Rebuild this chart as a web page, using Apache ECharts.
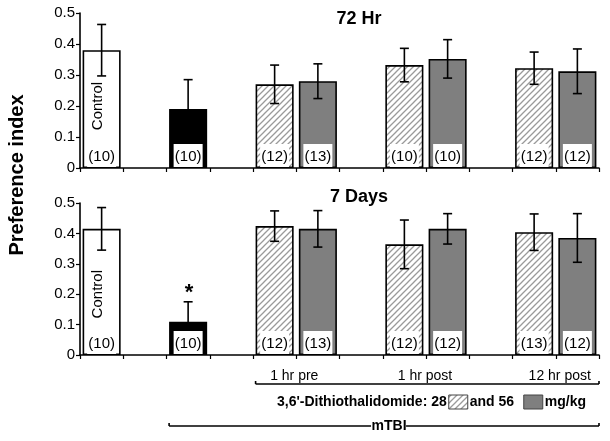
<!DOCTYPE html>
<html>
<head>
<meta charset="utf-8">
<script src="https://cdn.jsdelivr.net/npm/echarts@6/dist/echarts.min.js"></script>
<style>
html,body{margin:0;padding:0;background:#fff;}
#chart{width:610px;height:441px;}
</style>
</head>
<body>
<div id="chart"></div>
<script>
// ---------- data ----------
const categories = ['Control', 'gapA', 'mTBI', 'gapB', 'pre28', 'pre56', 'gapC', 'post1h28', 'post1h56', 'gapD', 'post12h28', 'post12h56'];
const fills = ['white', null, 'black', null, 'hatch', 'gray', null, 'hatch', 'gray', null, 'hatch', 'gray'];

const values72 = [0.38, null, 0.19, null, 0.27, 0.28, null, 0.332, 0.352, null, 0.322, 0.312];
const err72    = [0.083, null, 0.095, null, 0.062, 0.056, null, 0.054, 0.062, null, 0.052, 0.072];
const n72      = ['(10)', null, '(10)', null, '(12)', '(13)', null, '(10)', '(10)', null, '(12)', '(12)'];

const values7d = [0.415, null, 0.109, null, 0.424, 0.415, null, 0.364, 0.415, null, 0.404, 0.385];
const err7d    = [0.07, null, 0.066, null, 0.05, 0.06, null, 0.08, 0.05, null, 0.06, 0.08];
const n7d      = ['(10)', null, '(10)', null, '(12)', '(13)', null, '(12)', '(12)', null, '(13)', '(12)'];

const barText = ['Control', null, null, null, null, null, null, null, null, null, null, null];
const barTextValue = 0.2;
const stars7d = [null, null, '*', null, null, null, null, null, null, null, null, null];

const yTicks = [0, 0.1, 0.2, 0.3, 0.4, 0.5];
const panelTitles = ['72 Hr', '7 Days'];
const yName = 'Preference index';
const timingLabels = [['1 hr pre', 4, 5], ['1 hr post', 7, 8], ['12 hr post', 10, 11]];
const legendText = ["3,6'-Dithiothalidomide: 28", 'and 56', 'mg/kg'];
const groupLabel = 'mTBI';

// ---------- styling ----------
const FONT = 'Arial, "Liberation Sans", sans-serif';
const GRAY = '#7f7f7f';

const hatchCanvas = document.createElement('canvas');
hatchCanvas.width = 6; hatchCanvas.height = 6;
(function () {
  const c = hatchCanvas.getContext('2d');
  c.fillStyle = '#fff'; c.fillRect(0, 0, 6, 6);
  c.strokeStyle = '#9a9a9a'; c.lineWidth = 1.3;
  c.beginPath();
  c.moveTo(0, 6); c.lineTo(6, 0);
  c.moveTo(-1, 1); c.lineTo(1, -1);
  c.moveTo(5, 7); c.lineTo(7, 5);
  c.stroke();
})();
const hatchPattern = { image: hatchCanvas, repeat: 'repeat' };

function fillOf(f) {
  if (f === 'hatch') return hatchPattern;
  if (f === 'gray') return GRAY;
  return f;
}

const BAR_FRAC = 0.88;

function barSeries(vals, idx) {
  return {
    type: 'bar', xAxisIndex: idx, yAxisIndex: idx, barWidth: (BAR_FRAC * 100) + '%', z: 2,
    silent: true,
    data: vals.map((v, i) => v == null ? null : {
      value: v,
      itemStyle: { color: fillOf(fills[i]), borderColor: '#000', borderWidth: 1.6 }
    })
  };
}

function overlaySeries(vals, errs, ns, stars, idx) {
  const data = [];
  vals.forEach((v, i) => { if (v != null) data.push([categories[i], v, errs[i]]); });
  return {
    type: 'custom', xAxisIndex: idx, yAxisIndex: idx, z: 5, silent: true,
    data: data,
    renderItem: function (params, api) {
      const ci = api.value(0);
      const v = api.value(1), e = api.value(2);
      const top = api.coord([ci, v + e]);
      const bot = api.coord([ci, v - e]);
      const base = api.coord([ci, 0]);
      const x = top[0];
      const ls = { stroke: '#000', lineWidth: 1.6 };
      const ch = [
        { type: 'line', shape: { x1: x, y1: top[1], x2: x, y2: bot[1] }, style: ls },
        { type: 'line', shape: { x1: x - 4.5, y1: top[1], x2: x + 4.5, y2: top[1] }, style: ls },
        { type: 'line', shape: { x1: x - 4.5, y1: bot[1], x2: x + 4.5, y2: bot[1] }, style: ls },
        { type: 'rect', shape: { x: x - 14.5, y: base[1] - 24, width: 29, height: 23 }, style: { fill: '#fff' } },
        { type: 'text', x: x, y: base[1] - 11, style: { text: ns[ci], font: '15px ' + FONT, fill: '#000', align: 'center', verticalAlign: 'middle' } }
      ];
      if (barText[ci]) {
        const p = api.coord([ci, barTextValue]);
        ch.push({ type: 'text', x: p[0] - 4, y: p[1], rotation: Math.PI / 2,
          style: { text: barText[ci], font: '15px ' + FONT, fill: '#000', align: 'center', verticalAlign: 'middle' } });
      }
      if (stars && stars[ci]) {
        ch.push({ type: 'text', x: x + 1, y: top[1] - 9,
          style: { text: stars[ci], font: 'bold 22px ' + FONT, fill: '#000', align: 'center', verticalAlign: 'middle' } });
      }
      return { type: 'group', children: ch };
    }
  };
}

function xAxisOf(idx) {
  return {
    type: 'category', gridIndex: idx, data: categories,
    axisLine: { lineStyle: { color: '#000', width: 1.6 } },
    axisTick: { show: true, interval: 0, length: 4, lineStyle: { color: '#000', width: 1.2 } },
    axisLabel: { show: false }, splitLine: { show: false }
  };
}
function yAxisOf(idx) {
  return {
    type: 'value', gridIndex: idx, min: yTicks[0], max: yTicks[yTicks.length - 1], interval: 0.1,
    axisLine: { show: true, lineStyle: { color: '#000', width: 1.6 } },
    axisTick: { show: true, length: 4, lineStyle: { color: '#000', width: 1.2 } },
    axisLabel: { margin: 5, color: '#000', fontSize: 15, fontFamily: FONT,
      formatter: v => v === 0 ? '0' : v.toFixed(1) },
    splitLine: { show: false }
  };
}

const chart = echarts.init(document.getElementById('chart'), null, { renderer: 'canvas' });
chart.setOption({
  animation: false,
  backgroundColor: '#fff',
  title: panelTitles.map((t, i) => ({
    text: t, left: 354, top: i === 0 ? 5 : 183, textAlign: 'center',
    textStyle: { fontFamily: FONT, fontWeight: 'bold', fontSize: 18, color: '#000' }
  })),
  grid: [
    { left: 80, top: 13, width: 519, height: 155 },
    { left: 80, top: 203, width: 519, height: 152 }
  ],
  xAxis: [xAxisOf(0), xAxisOf(1)],
  yAxis: [yAxisOf(0), yAxisOf(1)],
  series: [
    barSeries(values72, 0), overlaySeries(values72, err72, n72, null, 0),
    barSeries(values7d, 1), overlaySeries(values7d, err7d, n7d, stars7d, 1)
  ]
});

// ---------- annotations positioned from the axis ----------
const cx = i => chart.convertToPixel({ xAxisIndex: 1 }, categories[i]);
const band = cx(1) - cx(0);
const halfBar = band * BAR_FRAC / 2;
const axisRight = cx(categories.length - 1) + band / 2;
const line = (x1, y1, x2, y2) => ({ type: 'line', shape: { x1, y1, x2, y2 }, style: { stroke: '#000', lineWidth: 1.6 }, z: 10 });

const yTiming = 384, yLegend = 402, yGroup = 426;
const timingLeft = cx(4) - halfBar;
const groupLeft = cx(2) - halfBar;
const g = [];
g.push(line(timingLeft, yTiming, axisRight, yTiming));
g.push(line(timingLeft, yTiming, timingLeft, yTiming - 3));
g.push(line(axisRight, yTiming, axisRight, yTiming - 3));
timingLabels.forEach(([t, a, b], k) => {
  const mid = (cx(a) + cx(b)) / 2 + (k === 2 ? 4 : (k === 0 ? -2 : -1));
  g.push({ type: 'text', x: mid, y: yTiming - 8, z: 10,
    style: { text: t, font: '14px ' + FONT, fill: '#000', align: 'center', verticalAlign: 'middle' } });
});
// legend row
const lgRight = cx(5) + band * 2.98;
g.push({ type: 'text', x: lgRight, y: yLegend, z: 10,
  style: { text: legendText[0], font: 'bold 14px ' + FONT, fill: '#000', align: 'right', verticalAlign: 'middle' } });
g.push({ type: 'rect', shape: { x: lgRight + 2, y: yLegend - 7, width: 19, height: 14 }, z: 10,
  style: { fill: hatchPattern, stroke: '#444', lineWidth: 1 } });
g.push({ type: 'text', x: lgRight + 23, y: yLegend, z: 10,
  style: { text: legendText[1], font: 'bold 14px ' + FONT, fill: '#000', align: 'left', verticalAlign: 'middle' } });
g.push({ type: 'rect', shape: { x: lgRight + 77, y: yLegend - 7, width: 19, height: 14 }, z: 10,
  style: { fill: GRAY, stroke: '#444', lineWidth: 1 } });
g.push({ type: 'text', x: lgRight + 98, y: yLegend, z: 10,
  style: { text: legendText[2], font: 'bold 14px ' + FONT, fill: '#000', align: 'left', verticalAlign: 'middle' } });
// mTBI bracket
const groupMid = (groupLeft + axisRight) / 2 + 9;
g.push(line(groupLeft, yGroup, groupMid - 22, yGroup));
g.push(line(groupMid + 13, yGroup, axisRight, yGroup));
g.push(line(groupLeft, yGroup, groupLeft, yGroup - 3));
g.push(line(axisRight, yGroup, axisRight, yGroup - 3));
g.push({ type: 'text', x: groupMid - 4, y: yGroup, z: 10,
  style: { text: groupLabel, font: 'bold 14px ' + FONT, fill: '#000', align: 'center', verticalAlign: 'middle' } });
// y axis name
g.push({ type: 'text', x: 17, y: 175, rotation: Math.PI / 2, z: 10,
  style: { text: yName, font: 'bold 20px ' + FONT, fill: '#000', align: 'center', verticalAlign: 'middle' } });

chart.setOption({ graphic: g });
</script>
</body>
</html>
